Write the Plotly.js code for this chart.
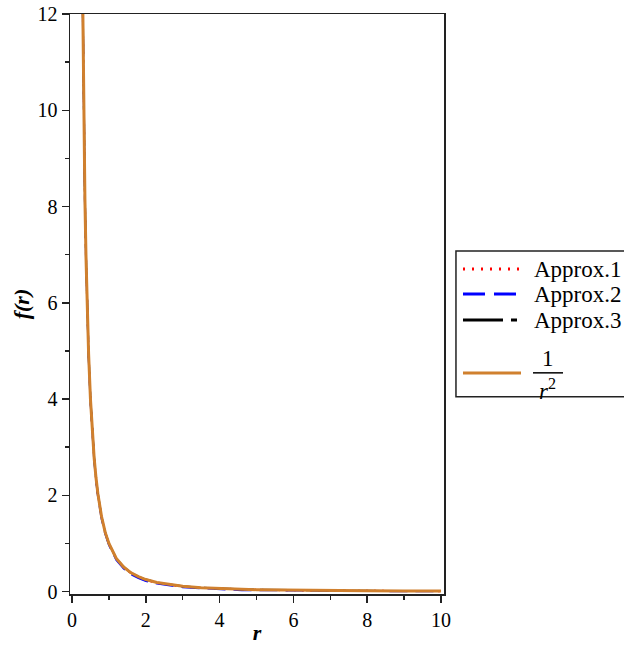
<!DOCTYPE html>
<html>
<head>
<meta charset="utf-8">
<script src="https://cdn.plot.ly/plotly-3.0.1.min.js"></script>
<style>html,body{margin:0;padding:0;background:#fff;}#chart{width:624px;height:645px;}</style>
</head>
<body>
<div id="chart"></div>
<script>
// r values
const r = [0.27, 0.29, 0.3, 0.32, 0.35, 0.38, 0.4, 0.45, 0.5, 0.55, 0.6, 0.65, 0.7, 0.8, 0.9, 1.0, 1.1, 1.2, 1.4, 1.6, 1.8, 2.0, 2.3, 2.6, 3.0, 3.5, 4.0, 4.6, 5.0, 6.0, 7.0, 8.0, 9.0, 10.0];
// exact curve 1/r^2
const fExact = [13.72, 11.89, 11.11, 9.77, 8.16, 6.93, 6.25, 4.94, 4.00, 3.31, 2.78, 2.37, 2.04, 1.56, 1.23, 1.00, 0.83, 0.69, 0.51, 0.39, 0.31, 0.25, 0.19, 0.15, 0.11, 0.082, 0.0625, 0.047, 0.04, 0.028, 0.020, 0.016, 0.012, 0.010];
// approximations (nearly coincident with exact curve)
const fApprox1 = [13.70, 11.88, 11.10, 9.76, 8.15, 6.92, 6.24, 4.93, 3.99, 3.30, 2.77, 2.36, 2.03, 1.55, 1.22, 0.99, 0.82, 0.68, 0.50, 0.38, 0.30, 0.24, 0.18, 0.14, 0.10, 0.078, 0.060, 0.045, 0.038, 0.026, 0.018, 0.014, 0.011, 0.009];
const fApprox2 = [13.65, 11.85, 11.05, 9.72, 8.12, 6.90, 6.20, 4.90, 3.96, 3.27, 2.74, 2.33, 2.00, 1.52, 1.20, 0.97, 0.80, 0.66, 0.48, 0.36, 0.28, 0.22, 0.17, 0.13, 0.09, 0.070, 0.050, 0.030, 0.030, 0.020, 0.015, 0.012, 0.008, 0.006];
const fApprox3 = [13.71, 11.89, 11.11, 9.77, 8.16, 6.93, 6.25, 4.94, 4.00, 3.31, 2.78, 2.37, 2.04, 1.56, 1.23, 1.00, 0.83, 0.69, 0.51, 0.39, 0.31, 0.25, 0.19, 0.15, 0.11, 0.082, 0.0625, 0.047, 0.04, 0.028, 0.020, 0.016, 0.012, 0.010];
const seriesNames = ["Approx.1", "Approx.2", "Approx.3"];
const xTicks = [0, 2, 4, 6, 8, 10];
const yTicks = [0, 2, 4, 6, 8, 10, 12];

const serif = "Liberation Serif";
const cRed = "#ff0000", cBlue = "#0000ff", cBlack = "#000000", cOrange = "#d0802e";

const traces = [
  {x: r, y: fApprox1, mode: "lines", name: seriesNames[0], line: {color: cRed, width: 2, dash: "2px,6px"}},
  {x: r, y: fApprox2, mode: "lines", name: seriesNames[1], line: {color: cBlue, width: 2, dash: "18px,8px"}},
  {x: r, y: fApprox3, mode: "lines", name: seriesNames[2], line: {color: cBlack, width: 2, dash: "30px,6px,4px,6px"}},
  {x: r, y: fExact, mode: "lines", name: "1/r<sup>2</sup>", line: {color: cOrange, width: 3}}
];

// legend geometry (paper coords)
const L = {x0: 1.032, x1: 1.6, y0: 0.34, y1: 0.5914, lx0: 1.0508, lx1: 1.2059, tx: 1.2353};
const rowsY = [0.5603, 0.5172, 0.4724, 0.381];
const legendStyles = [
  {color: cRed, width: 3, dash: "2px,7px"},
  {color: cBlue, width: 3, dash: "22px,9px"},
  {color: cBlack, width: 3, dash: "40px,8px,6px,8px"},
  {color: cOrange, width: 3, dash: "solid"}
];
const shapes = [
  {type: "rect", xref: "paper", yref: "paper", x0: L.x0, x1: L.x1, y0: L.y0, y1: L.y1, line: {color: "#222", width: 1.5}, fillcolor: "rgba(0,0,0,0)"}
];
legendStyles.forEach((s, i) => {
  shapes.push({type: "line", xref: "paper", yref: "paper", x0: L.lx0, x1: L.lx1, y0: rowsY[i], y1: rowsY[i], line: s});
});
// fraction bar for 1/r^2
shapes.push({type: "line", xref: "paper", yref: "paper", x0: 1.2380, x1: 1.3182, y0: 0.3813, y1: 0.3813, line: {color: "#000", width: 1.5}});

const annotations = [];
seriesNames.forEach((n, i) => {
  annotations.push({xref: "paper", yref: "paper", x: L.tx, y: rowsY[i], xanchor: "left", yanchor: "middle", text: n, showarrow: false, font: {family: serif, size: 23, color: "#000"}});
});
annotations.push({xref: "paper", yref: "paper", x: 1.278, y: 0.4055, xanchor: "center", yanchor: "middle", text: "1", showarrow: false, font: {family: serif, size: 23, color: "#000"}});
annotations.push({xref: "paper", yref: "paper", x: 1.278, y: 0.352, xanchor: "center", yanchor: "middle", text: "<i>r</i><sup>2</sup>", showarrow: false, font: {family: serif, size: 23, color: "#000"}});

const axisCommon = {
  showgrid: false, zeroline: false, showline: true, linecolor: "#222", linewidth: 1.5, mirror: true,
  ticks: "outside", ticklen: 7, tickwidth: 1.5, tickcolor: "#222",
  tickfont: {family: serif, size: 20, color: "#000"},
  minor: {dtick: 1, ticks: "outside", ticklen: 4, tickwidth: 1.5, tickcolor: "#222"}
};

const layout = {
  width: 624, height: 645,
  margin: {l: 70, r: 180, t: 14, b: 51},
  paper_bgcolor: "#fff", plot_bgcolor: "#fff",
  showlegend: false,
  xaxis: Object.assign({}, axisCommon, {
    range: [-0.054, 10.08], tickvals: xTicks, ticktext: xTicks.map(String),
    title: {text: "<b><i>r</i></b>", font: {family: serif, size: 22, color: "#000"}, standoff: 2}
  }),
  yaxis: Object.assign({}, axisCommon, {
    range: [-0.05, 12], tickvals: yTicks, ticktext: yTicks.map(String),
    title: {text: "<b><i>f(r)</i></b>", font: {family: serif, size: 22, color: "#000"}, standoff: 2}
  }),
  shapes: shapes,
  annotations: annotations
};

Plotly.newPlot("chart", traces, layout, {staticPlot: true, displayModeBar: false});
</script>
</body>
</html>
